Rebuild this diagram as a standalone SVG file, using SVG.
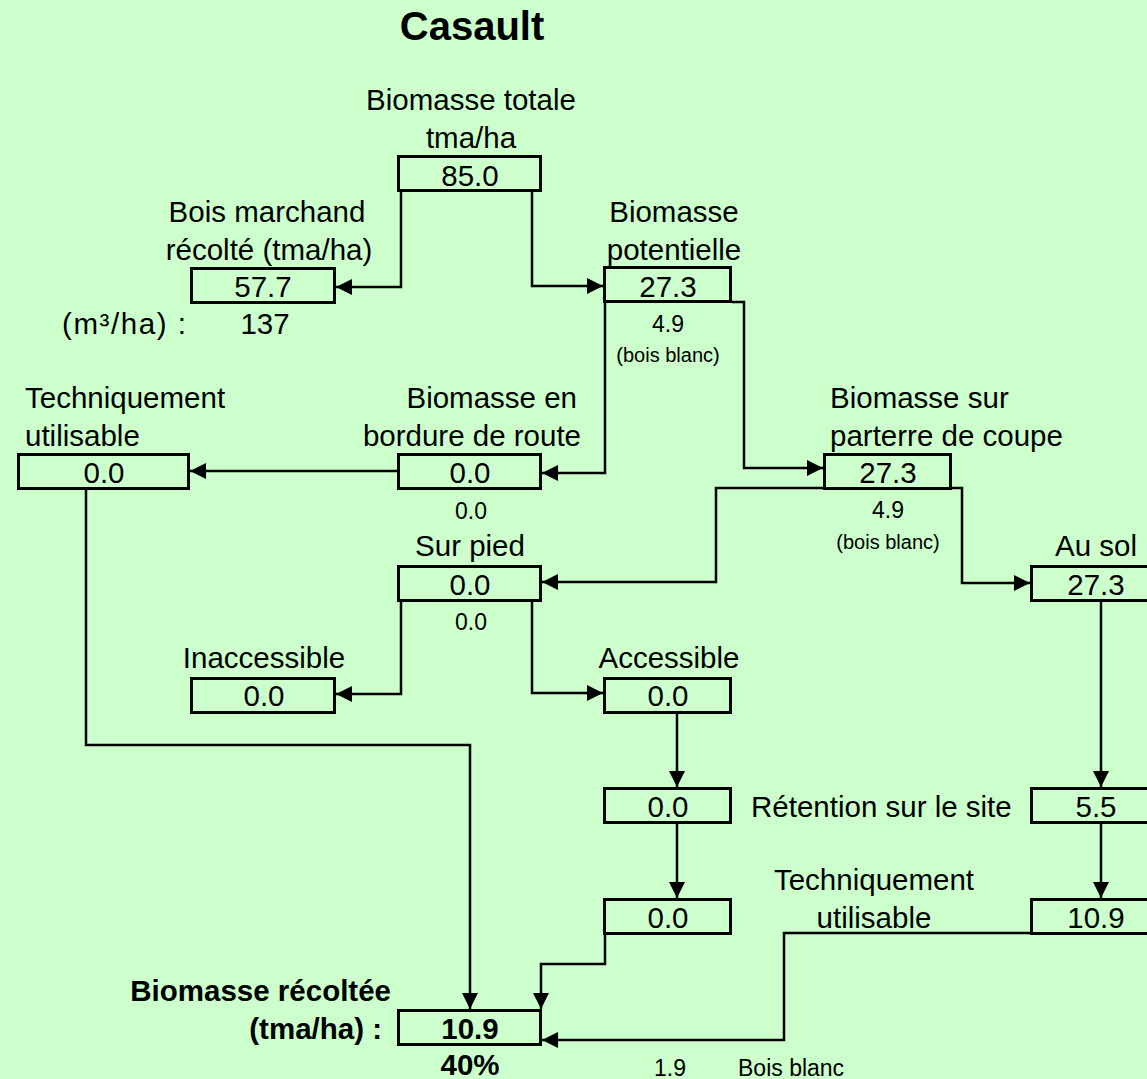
<svg xmlns="http://www.w3.org/2000/svg" width="1147" height="1079" viewBox="0 0 1147 1079">
<defs>
<marker id="ah" markerUnits="userSpaceOnUse" markerWidth="18" markerHeight="17" refX="16" refY="8" orient="auto">
<path d="M0,0 L16,8 L0,16 z" fill="#000"/>
</marker>
<style>
text{font-family:"Liberation Sans",Arial,sans-serif;fill:#000}
.l{font-size:29.5px}
.c{text-anchor:middle}
.s{font-size:23px}
.xs{font-size:20px}
.b{font-weight:bold}
.box{fill:none;stroke:#000;stroke-width:3}
.cn path{fill:none;stroke:#000;stroke-width:2.5;marker-end:url(#ah)}
</style>
</defs>
<rect width="1147" height="1079" fill="#CCFFCC"/>
<text x="472" y="40" class="c b" style="font-size:40px">Casault</text>

<g class="cn" id="connectors">
<path d="M401,192 V287 H336"/>
<path d="M532,192 V286 H603"/>
<path d="M605,303 V473 H542"/>
<path d="M732,302 H744 V468 H823"/>
<path d="M397,471 H190"/>
<path d="M823,488 H716 V582 H542"/>
<path d="M952,488 H962 V583 H1030"/>
<path d="M401,602 V694 H336"/>
<path d="M532,602 V693 H603"/>
<path d="M677,714 V787"/>
<path d="M677,824 V898"/>
<path d="M1101,602 V787"/>
<path d="M1101,824 V898"/>
<path d="M86,490 V745 H470 V1009"/>
<path d="M605,935 V964 H541 V1009"/>
<path d="M1030,933 H784 V1040 H542"/>
</g>

<g id="n-total">
<text x="471" y="110" class="l c">Biomasse totale</text>
<text x="471" y="148" class="l c">tma/ha</text>
<rect class="box" x="398.5" y="156.5" width="142" height="34"/>
<text x="470" y="186" class="l c">85.0</text>
</g>
<g id="n-marchand">
<text x="267" y="222" class="l c">Bois marchand</text>
<text x="269" y="260" class="l c">récolté (tma/ha)</text>
<rect class="box" x="191.5" y="268.5" width="143" height="34"/>
<text x="263" y="297" class="l c">57.7</text>
<text x="62" y="334" class="l" textLength="124" lengthAdjust="spacing">(m³/ha) :</text>
<text x="265" y="334" class="l c">137</text>
</g>
<g id="n-potentielle">
<text x="674" y="222" class="l c">Biomasse</text>
<text x="674" y="260" class="l c">potentielle</text>
<rect class="box" x="604.5" y="267.5" width="126" height="34"/>
<text x="668" y="297" class="l c">27.3</text>
<text x="668" y="332" class="s c">4.9</text>
<text x="668" y="362" class="xs c">(bois blanc)</text>
</g>
<g id="n-tech1">
<text x="25" y="408" class="l">Techniquement</text>
<text x="25" y="446" class="l">utilisable</text>
<rect class="box" x="18.5" y="454.5" width="170" height="34"/>
<text x="104" y="483" class="l c">0.0</text>
</g>
<g id="n-bordure">
<text x="577" y="408" class="l" text-anchor="end">Biomasse en</text>
<text x="581" y="446" class="l" text-anchor="end">bordure de route</text>
<rect class="box" x="398.5" y="454.5" width="142" height="34"/>
<text x="470" y="483" class="l c">0.0</text>
<text x="471" y="519" class="s c">0.0</text>
</g>
<g id="n-parterre">
<text x="830" y="408" class="l">Biomasse sur</text>
<text x="830" y="446" class="l">parterre de coupe</text>
<rect class="box" x="824.5" y="454.5" width="126" height="34"/>
<text x="888" y="483" class="l c">27.3</text>
<text x="888" y="518" class="s c">4.9</text>
<text x="888" y="549" class="xs c">(bois blanc)</text>
</g>
<g id="n-surpied">
<text x="470" y="556" class="l c">Sur pied</text>
<rect class="box" x="398.5" y="566.5" width="142" height="34"/>
<text x="470" y="595" class="l c">0.0</text>
<text x="471" y="630" class="s c">0.0</text>
</g>
<g id="n-ausol">
<text x="1096" y="556" class="l c">Au sol</text>
<rect class="box" x="1031.5" y="566.5" width="129" height="34"/>
<text x="1096" y="595" class="l c">27.3</text>
</g>
<g id="n-inacc">
<text x="264" y="668" class="l c">Inaccessible</text>
<rect class="box" x="191.5" y="678.5" width="143" height="34"/>
<text x="264" y="706" class="l c">0.0</text>
</g>
<g id="n-acc">
<text x="669" y="668" class="l c">Accessible</text>
<rect class="box" x="604.5" y="678.5" width="126" height="34"/>
<text x="668" y="706" class="l c">0.0</text>
</g>
<g id="n-ret0">
<rect class="box" x="604.5" y="788.5" width="126" height="34"/>
<text x="668" y="817" class="l c">0.0</text>
</g>
<g id="n-ret">
<text x="751" y="817" class="l">Rétention sur le site</text>
<rect class="box" x="1031.5" y="788.5" width="129" height="34"/>
<text x="1096" y="817" class="l c">5.5</text>
</g>
<g id="n-low0">
<rect class="box" x="604.5" y="899.5" width="126" height="34"/>
<text x="668" y="928" class="l c">0.0</text>
</g>
<g id="n-tech2">
<text x="874" y="890" class="l c">Techniquement</text>
<text x="874" y="928" class="l c">utilisable</text>
<rect class="box" x="1031.5" y="899.5" width="129" height="34"/>
<text x="1096" y="928" class="l c">10.9</text>
</g>
<g id="n-result">
<text x="391" y="1001" class="l b" text-anchor="end">Biomasse récoltée</text>
<text x="382" y="1039" class="l b" text-anchor="end">(tma/ha) :</text>
<rect class="box" x="398.5" y="1010.5" width="142" height="34"/>
<text x="470" y="1039" class="l c b">10.9</text>
<text x="470" y="1075" class="l c b">40%</text>
<text x="670" y="1076" class="s c">1.9</text>
<text x="738" y="1076" class="s">Bois blanc</text>
</g>
</svg>
